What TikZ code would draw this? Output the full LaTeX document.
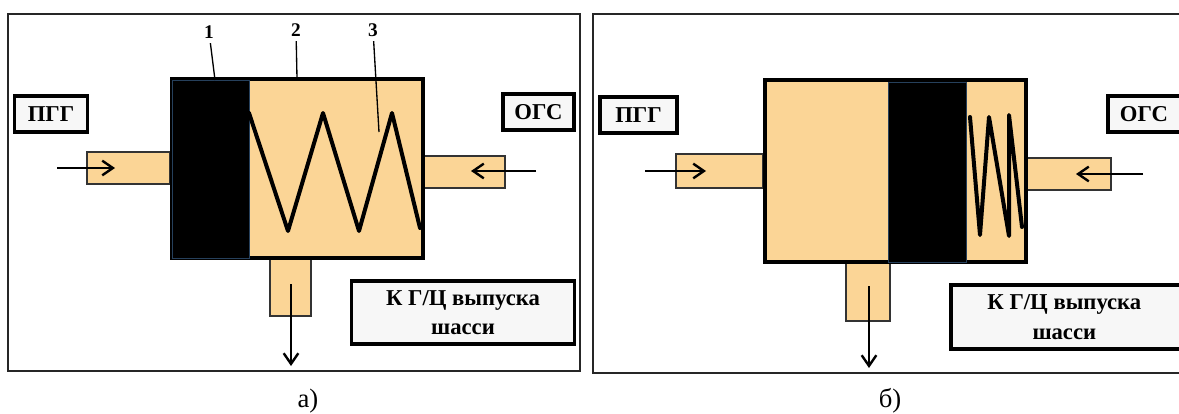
\documentclass[tikz,border=0pt]{standalone}
\usepackage{fontspec}
\usetikzlibrary{arrows.meta}
\setmainfont{Liberation Serif}
\definecolor{oil}{HTML}{FBD596}
\definecolor{pale}{HTML}{F7F7F7}
\definecolor{rim}{HTML}{26405C}
\begin{document}
\begin{tikzpicture}[
    x=0.75pt, y=-0.75pt,
    sz/.style 2 args={minimum width=#1*0.75pt, minimum height=#2*0.75pt, inner sep=0pt},
    frame/.style={rectangle, draw=black!85, line width=1.1pt},
    cylinder/.style={rectangle, draw=black, fill=oil, line width=3pt},
    piston/.style={rectangle, draw=rim, fill=black, line width=0.7pt},
    pipe/.style={rectangle, draw=black!80, fill=oil, line width=1pt},
    tag/.style={rectangle, draw=black, fill=pale, line width=2.4pt, font=\bfseries\fontsize{17}{22}\selectfont, align=center},
    num/.style={font=\bfseries\fontsize{14.5}{16}\selectfont},
    capt/.style={font=\fontsize{20}{22}\selectfont},
    flow/.style={-{Straight Barb[length=8pt,width=11pt,line width=1.8pt]}, line width=2.2pt},
    coil/.style={line width=3pt, line join=round, line cap=round},
    lead/.style={line width=1pt}
]
\clip (0,0) rectangle (1179,414);
\fill[white] (0,0) rectangle (1179,414);

% left panel
\node[frame, sz={572}{357}] (frameA) at (294,192.5) {};
\node[pipe, sz={83}{32}] (inA) at (128.5,168) {};
\node[pipe, sz={82}{32}] (outA) at (464,172) {};
\node[pipe, sz={41}{58}] (drainA) at (290.5,287) {};
\node[cylinder, sz={251}{179}] (cylA) at (297.5,168.5) {};
\node[piston, sz={77}{178}] (pistA) at (210.5,169) {};

\coordinate (a0) at (249,113);
\coordinate (a1) at (288,231);
\coordinate (a2) at (323,113);
\coordinate (a3) at (359,231);
\coordinate (a4) at (392,113);
\coordinate (a5) at (420,228);
\draw[coil] (a0) -- (a1) -- (a2) -- (a3) -- (a4) -- (a5);

\node[tag, sz={73}{36}] (pggA) at (51,114) {ПГГ};
\node[tag, sz={71}{36}] (ogsA) at (538.5,112) {ОГС};
\node[tag, sz={223}{63}] (kgA) at (463,312.5) {К Г/Ц выпуска\\шасси};

\coordinate (pa) at (57,168);
\coordinate (pb) at (115,168);
\coordinate (qa) at (536,171);
\coordinate (qb) at (471,171);
\coordinate (ra) at (291,284);
\coordinate (rb) at (291,366);
\draw[flow] (pa) -- (pb);
\draw[flow] (qa) -- (qb);
\draw[flow] (ra) -- (rb);

\node[num] (n1) at (209,32) {1};
\node[num] (n2) at (296,30) {2};
\node[num] (n3) at (373,30) {3};
\coordinate (t1) at (215,80);
\coordinate (t2) at (297,78);
\coordinate (t3) at (379,132);
\draw[lead] (n1) -- (t1);
\draw[lead] (n2) -- (t2);
\draw[lead] (n3) -- (t3);

\node[capt] (captA) at (308,401) {а)};

% right panel
\node[frame, sz={592}{359}] (frameB) at (889,193.5) {};
\node[pipe, sz={87}{34}] (inB) at (719.5,171) {};
\node[pipe, sz={86}{32}] (outB) at (1068,174) {};
\node[pipe, sz={44}{59}] (drainB) at (868,291.5) {};
\node[cylinder, sz={261}{182}] (cylB) at (895.5,171) {};
\node[piston, sz={78}{180}] (pistB) at (927,172) {};

\coordinate (b0) at (970,117);
\coordinate (b1) at (980,235);
\coordinate (b2) at (989,117);
\coordinate (b3) at (1009,236);
\coordinate (b4) at (1009,115);
\coordinate (b5) at (1022,227);
\draw[coil] (b0) -- (b1) -- (b2) -- (b3) -- (b4) -- (b5);

\node[tag, sz={77}{36}] (pggB) at (638.5,115) {ПГГ};
\node[tag, sz={80}{36}] (ogsB) at (1148,114) {\hspace*{-6pt}ОГС};
\node[tag, sz={240}{64}] (kgB) at (1071,317) {\hspace*{-10pt}К Г/Ц выпуска\\\hspace*{-10pt}шасси};

\coordinate (ua) at (645,171);
\coordinate (ub) at (706,171);
\coordinate (va) at (1143,174);
\coordinate (vb) at (1076,174);
\coordinate (wa) at (869,286);
\coordinate (wb) at (869,368);
\draw[flow] (ua) -- (ub);
\draw[flow] (va) -- (vb);
\draw[flow] (wa) -- (wb);

\node[capt] (captB) at (890,401) {б)};
\end{tikzpicture}
\end{document}
